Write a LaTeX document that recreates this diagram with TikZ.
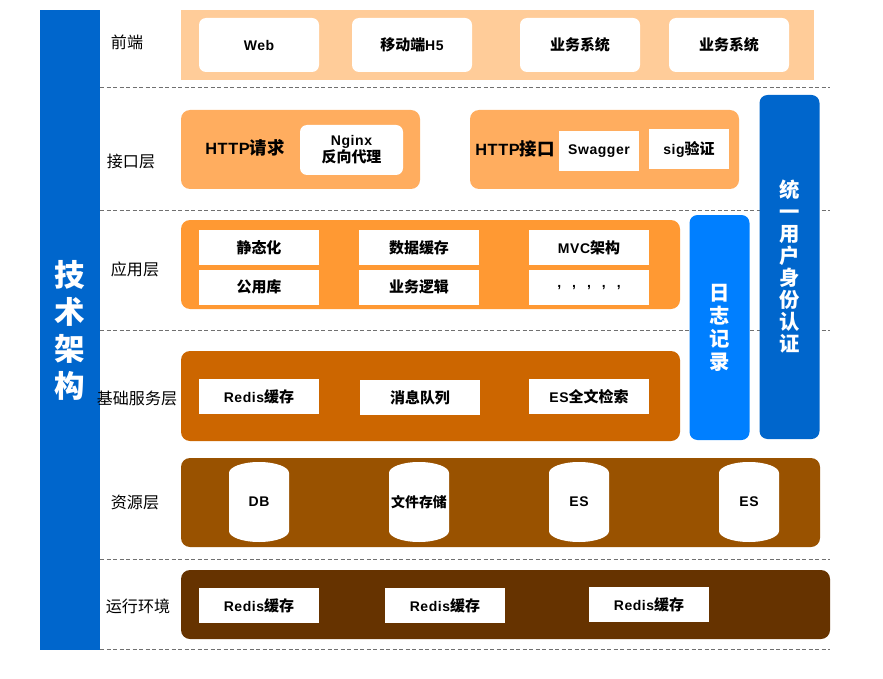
\documentclass[tikz,border=0pt]{standalone}
\usepackage{fontspec}
\setmainfont{Liberation Sans}[LetterSpace=4]
\newfontfamily\cjk{Noto Sans CJK SC}[Scale=1.07]
\newcommand{\zh}[1]{{\cjk #1}}
\usepackage{xcolor}
\definecolor{mblue}{HTML}{0066CC}
\definecolor{mbright}{HTML}{007FFF}
\definecolor{mpeach}{HTML}{FFCC99}
\definecolor{mtan}{HTML}{FFAD5F}
\definecolor{morange}{HTML}{FF9933}
\definecolor{mrust}{HTML}{CC6600}
\definecolor{mbrown}{HTML}{995200}
\definecolor{mdark}{HTML}{663300}
\definecolor{mline}{HTML}{707070}
\tikzset{
  panel/.style={rounded corners=9pt, inner sep=0pt},
  wbox/.style={fill=white, inner sep=0pt, text=black, align=center,
               minimum width=120, minimum height=35, font=\fontsize{14}{17}\selectfont\bfseries},
  rbox/.style={wbox, rounded corners=7pt},
  dbcyl/.style={inner sep=0pt, text=black, minimum width=60, minimum height=80,
                font=\fontsize{14}{17}\selectfont\bfseries,
                path picture={
                  \fill[white] ([yshift=-11pt]path picture bounding box.north west)
                    arc[start angle=180, end angle=0, x radius=30pt, y radius=11pt]
                    -- ([yshift=11pt]path picture bounding box.south east)
                    arc[start angle=0, end angle=-180, x radius=30pt, y radius=11pt] -- cycle;
                }},
  layer/.style={font=\fontsize{15}{18}\selectfont, text=black},
  sep/.style={line width=0.8pt, mline, dash pattern=on 4pt off 2.5pt},
  vbar/.style={rounded corners=8pt, text=white, align=center, inner sep=0pt, minimum width=60},
}
\begin{document}
\begin{tikzpicture}[x=1pt, y=-1pt]
  \useasboundingbox (0,0) rectangle (883,679);
  % dashed separators
  \coordinate (s1a) at (100,87);  \coordinate (s1b) at (830,87);
  \coordinate (s2a) at (100,210); \coordinate (s2b) at (830,210);
  \coordinate (s3a) at (100,330); \coordinate (s3b) at (830,330);
  \coordinate (s4a) at (100,559); \coordinate (s4b) at (830,559);
  \coordinate (s5a) at (100,649); \coordinate (s5b) at (830,649);
  \draw[sep] (s1a)--(s1b);
  \draw[sep] (s2a)--(s2b);
  \draw[sep] (s3a)--(s3b);
  \draw[sep] (s4a)--(s4b);
  \draw[sep] (s5a)--(s5b);
  % left bar
  \node[fill=mblue, minimum width=60, minimum height=640, inner sep=0pt, text=white, align=center,
        font=\fontsize{28.5}{37}\selectfont\bfseries\cjk] (arch) at (70,330) {技\\术\\架\\构};
  % layer names
  \node[layer] (lfront) at (127,42) {\zh{前端}};
  \node[layer] (lapi) at (131,161) {\zh{接口层}};
  \node[layer] (lapp) at (135,269) {\zh{应用层}};
  \node[layer] (lbase) at (137,398) {\zh{基础服务层}};
  \node[layer] (lres) at (135,503) {\zh{资源层}};
  \node[layer] (lrun) at (138,606) {\zh{运行环境}};
  % front end
  \node[fill=mpeach, minimum width=633, minimum height=70, inner sep=0pt] (pfront) at (497.5,45) {};
  \node[rbox, minimum height=54] (web) at (259,45) {Web};
  \node[rbox, minimum height=54] (mobile) at (412,45) {\zh{移动端}H5};
  \node[rbox, minimum height=54] (biz1) at (580,45) {\zh{业务系统}};
  \node[rbox, minimum height=54] (biz2) at (729,45) {\zh{业务系统}};
  % interface
  \node[panel, fill=mtan, minimum width=239, minimum height=79] (phttp) at (300.5,149.5) {};
  \node[font=\fontsize{16.3}{20}\selectfont\bfseries] (req) at (245,148) {HTTP\zh{请求}};
  \node[rbox, minimum width=103, minimum height=50] (nginx) at (351.5,150) {Nginx\\\zh{反向代理}};
  \node[panel, fill=mtan, minimum width=269, minimum height=79] (papi) at (604.5,149.5) {};
  \node[font=\fontsize{16.3}{20}\selectfont\bfseries] (iface) at (515,149) {HTTP\zh{接口}};
  \node[wbox, minimum width=80, minimum height=40] (swagger) at (599,151) {Swagger};
  \node[wbox, minimum width=80, minimum height=40] (sig) at (689,149) {sig\zh{验证}};
  % application
  \node[panel, fill=morange, minimum width=499, minimum height=89] (papp) at (430.5,264.5) {};
  \node[wbox] (static) at (259,247.5) {\zh{静态化}};
  \node[wbox] (cache) at (419,247.5) {\zh{数据缓存}};
  \node[wbox] (mvc) at (589,247.5) {MVC\zh{架构}};
  \node[wbox] (lib) at (259,287) {\zh{公用库}};
  \node[wbox] (logic) at (419,287) {\zh{业务逻辑}};
  \node[wbox] (etc) at (589,287) {\raisebox{-3pt}{,\hspace{11pt},\hspace{11pt},\hspace{11pt},\hspace{11pt},}};
  % base services
  \node[panel, fill=mrust, minimum width=499, minimum height=90] (pbase) at (430.5,396) {};
  \node[wbox] (redis1) at (259,396.5) {Redis\zh{缓存}};
  \node[wbox] (mq) at (420,397.5) {\zh{消息队列}};
  \node[wbox] (esft) at (589,396.5) {ES\zh{全文检索}};
  % resources
  \node[panel, fill=mbrown, minimum width=639, minimum height=89] (pres) at (500.5,502.5) {};
  \node[dbcyl] (db) at (259,502) {DB};
  \node[dbcyl, font=\fontsize{13}{16}\selectfont\bfseries] (files) at (419,502) {\zh{文件存储}};
  \node[dbcyl] (es1) at (579,502) {ES};
  \node[dbcyl] (es2) at (749,502) {ES};
  % runtime
  \node[panel, fill=mdark, minimum width=649, minimum height=69] (prun) at (505.5,604.5) {};
  \node[wbox] (redis2) at (259,605.5) {Redis\zh{缓存}};
  \node[wbox] (redis3) at (445,605.5) {Redis\zh{缓存}};
  \node[wbox] (redis4) at (649,604.5) {Redis\zh{缓存}};
  % side columns
  \node[vbar, fill=mbright, minimum height=225, font=\fontsize{19}{23}\selectfont\bfseries\cjk] (log) at (719.5,327.5) {日\\志\\记\\录};
  \node[vbar, fill=mblue, minimum height=344, font=\fontsize{19}{22}\selectfont\bfseries\cjk] (auth) at (789.5,267) {统\\一\\用\\户\\身\\份\\认\\证};
\end{tikzpicture}
\end{document}
